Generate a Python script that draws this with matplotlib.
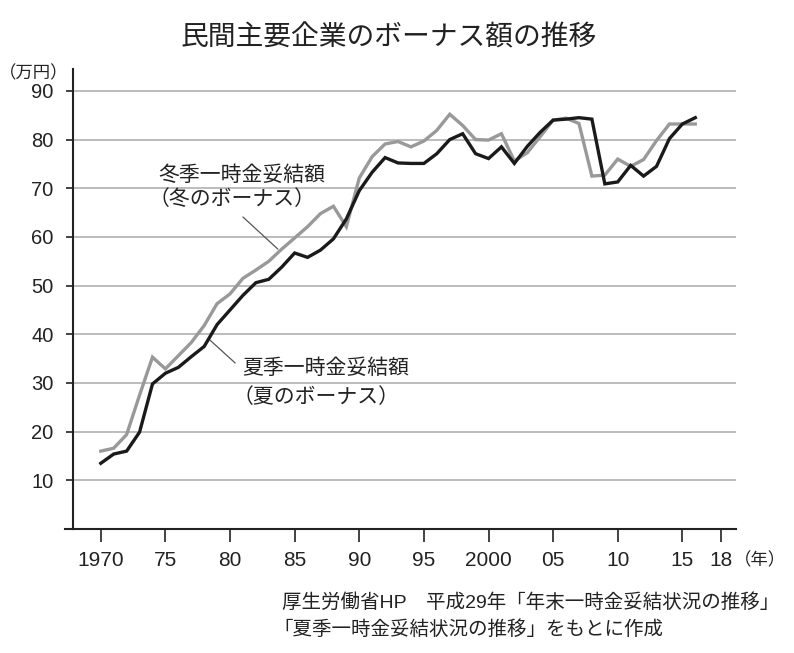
import matplotlib
matplotlib.use("Agg")
import matplotlib.pyplot as plt
from matplotlib.lines import Line2D

plt.rcParams['font.family'] = ['Liberation Sans', 'Noto Sans CJK JP']
cjk = ['Noto Sans CJK JP', 'Liberation Sans']

# data (万円)
years = list(range(1970, 2017))
summer = [13.5, 15.4, 16.0, 19.9, 29.8, 32.0, 33.2, 35.4, 37.5, 42.0,
          45.0, 48.0, 50.6, 51.3, 53.8, 56.7, 55.8, 57.3, 59.6, 63.7,
          69.5, 73.3, 76.3, 75.2, 75.1, 75.1, 77.1, 80.0, 81.2, 77.1,
          76.1, 78.5, 75.1, 78.6, 81.5, 84.0, 84.2, 84.5, 84.2, 70.9,
          71.3, 74.7, 72.5, 74.5, 80.2, 83.2, 84.5]
winter = [16.0, 16.6, 19.4, 27.5, 35.3, 32.9, 35.6, 38.3, 41.8, 46.3,
          48.3, 51.5, 53.2, 55.0, 57.5, 59.8, 62.1, 64.8, 66.3, 62.1,
          72.1, 76.5, 79.1, 79.6, 78.5, 79.7, 81.9, 85.2, 82.9, 80.0,
          79.9, 81.2, 75.6, 77.3, 80.6, 84.0, 84.4, 83.3, 72.5, 72.7,
          76.0, 74.5, 75.9, 79.8, 83.2, 83.2, 83.2]

xticks = [1970, 1975, 1980, 1985, 1990, 1995, 2000, 2005, 2010, 2015, 2018]
xtick_labels = ['1970', '75', '80', '85', '90', '95', '2000', '05', '10', '15', '18']
yticks = [10, 20, 30, 40, 50, 60, 70, 80, 90]

W, H = 794, 653
fig = plt.figure(figsize=(W / 100, H / 100), dpi=100)
ax = fig.add_axes([73 / W, 1 - 529 / H, (736 - 73) / W, (529 - 69) / H])

def fx(px):
    return px / W

def fy(py):
    return 1 - py / H

ax.plot(years, winter, color='#999999', lw=2.4, solid_joinstyle='miter', zorder=3)
ax.plot(years, summer, color='#1a1a1a', lw=2.4, solid_joinstyle='miter', zorder=4)

ax.set_xlim(1967.85, 2019.15)
ax.set_ylim(0, 94.5)
ax.set_yticks(yticks)
ax.set_xticks(xticks)
ax.set_xticklabels(xtick_labels)
ax.yaxis.grid(True, color='#aaaaaa', lw=1.1)
ax.set_axisbelow(True)

for s in ['top', 'right']:
    ax.spines[s].set_visible(False)
for s in ['left', 'bottom']:
    ax.spines[s].set_linewidth(1.5)
    ax.spines[s].set_color('#222222')
ax.tick_params(axis='y', direction='out', length=5, width=1.2, pad=9,
               labelsize=14.5, colors='#222222')
ax.tick_params(axis='x', direction='out', length=9, width=1.2, pad=7,
               labelsize=15, colors='#222222')

# bottom axis line runs a little left of the y spine
ax.add_line(Line2D([-0.012, 0], [0, 0], transform=ax.transAxes, color='#222222',
                   lw=1.5, clip_on=False))

# leader lines
ax.annotate('', xy=(1983.7, 57.5), xytext=(1981.0, 64.1),
            arrowprops=dict(arrowstyle='-', color='#555555', lw=0.9,
                            shrinkA=0, shrinkB=0))
ax.annotate('', xy=(1980.4, 34.1), xytext=(1978.45, 38.8),
            arrowprops=dict(arrowstyle='-', color='#555555', lw=0.9,
                            shrinkA=0, shrinkB=0))

tc = '#222222'
fig.text(fx(389), fy(38), '民間主要企業のボーナス額の推移', ha='center', va='center',
         fontsize=20, color=tc)
fig.text(fx(-1), fy(73), '（万円）', ha='left', va='center', fontsize=12.5,
         color=tc, family=cjk)
fig.text(fx(734), fy(560), '（年）', ha='left', va='center', fontsize=12.5,
         color=tc, family=cjk)

fig.text(fx(158), fy(175), '冬季一時金妥結額', ha='left', va='center', fontsize=15, color=tc)
fig.text(fx(149), fy(199), '（冬のボーナス）', ha='left', va='center', fontsize=15,
         color=tc, family=cjk)
fig.text(fx(242), fy(368), '夏季一時金妥結額', ha='left', va='center', fontsize=15, color=tc)
fig.text(fx(233), fy(397), '（夏のボーナス）', ha='left', va='center', fontsize=15,
         color=tc, family=cjk)

fig.text(fx(282), fy(603), '厚生労働省HP　平成29年「年末一時金妥結状況の推移」',
         ha='left', va='center', fontsize=14, color=tc)
fig.text(fx(273), fy(630), '「夏季一時金妥結状況の推移」をもとに作成',
         ha='left', va='center', fontsize=14, color=tc)

fig.savefig('out.png', dpi=100)
